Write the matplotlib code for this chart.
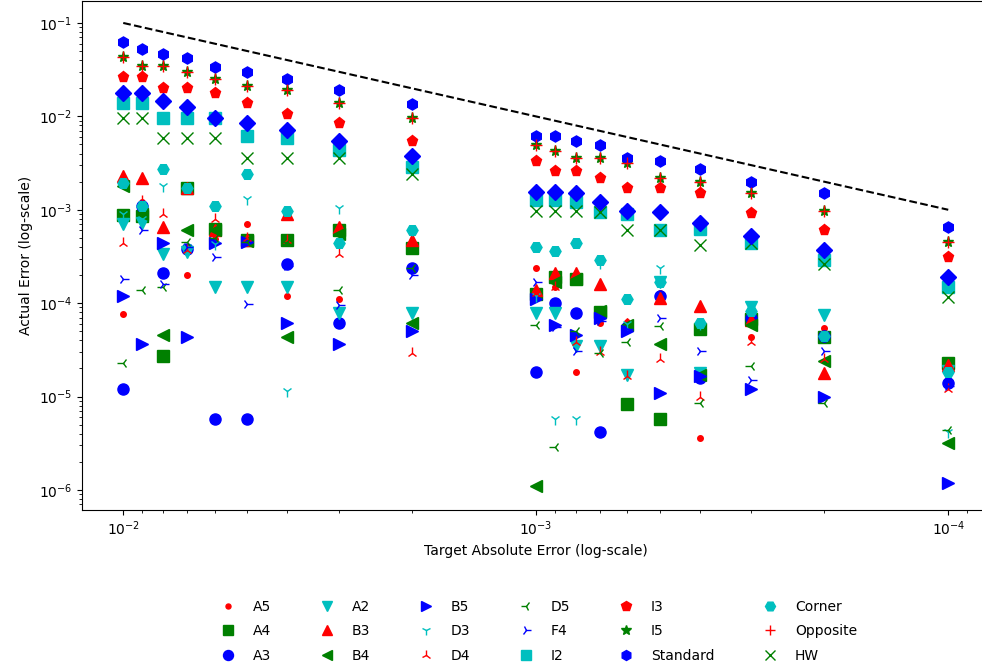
import matplotlib
matplotlib.use("Agg")
import matplotlib.pyplot as plt
import numpy as np

# target absolute errors (x axis)
targets = [0.01, 0.009, 0.008, 0.007, 0.006, 0.005, 0.004, 0.003, 0.002,
           0.001, 0.0009, 0.0008, 0.0007, 0.0006, 0.0005, 0.0004, 0.0003, 0.0002, 0.0001]

# actual errors per method
A5 = [7.6e-5, 1.2e-3, 6e-4, 2.0e-4, 4.9e-4, 7e-4, 1.2e-4, 1.1e-4, 4e-4, 2.4e-4,
      1.5e-4, 1.85e-5, 6.1e-5, 6.3e-5, 1.27e-4, 3.6e-6, 4.3e-5, 5.4e-5, 1.5e-5]
A4 = [8.8e-4, 8.5e-4, 2.7e-5, 1.7e-3, 6.2e-4, 4.7e-4, 4.7e-4, 6.0e-4, 3.9e-4, 1.25e-4,
      1.9e-4, 1.8e-4, 8.0e-5, 8.4e-6, 5.8e-6, 5.3e-5, 6.8e-5, 4.3e-5, 2.3e-5]
A3 = [1.2e-5, 1.1e-3, 2.1e-4, 3.8e-4, 5.7e-6, 5.7e-6, 2.65e-4, 6.1e-5, 2.4e-4, 1.85e-5,
      1.0e-4, 7.8e-5, 4.2e-6, 5.5e-5, 1.2e-4, 1.6e-5, 7e-5, 4.5e-5, 1.4e-5]
A2 = [7.1e-4, 7.3e-4, 3.4e-4, 3.5e-4, 1.5e-4, 1.5e-4, 1.5e-4, 7.8e-5, 7.8e-5, 7.8e-5,
      7.8e-5, 3.5e-5, 3.5e-5, 1.7e-5, 1.7e-4, 1.8e-5, 9e-5, 7.5e-5, 1.9e-5]
B3 = [2.3e-3, 2.2e-3, 6.5e-4, 1.7e-3, 6.0e-4, 4.8e-4, 9.0e-4, 6.6e-4, 4.7e-4, 1.4e-4,
      2.1e-4, 2.1e-4, 1.6e-4, 6.0e-5, 1.15e-4, 9.3e-5, 6.6e-5, 1.8e-5, 2.2e-5]
B4 = [1.8e-3, 9e-4, 4.6e-5, 6.0e-4, 6.0e-4, 4.6e-4, 4.3e-5, 5.5e-4, 6.1e-5, 1.1e-6,
      1.7e-4, 1.8e-4, 8.3e-5, 5.8e-5, 3.7e-5, 1.7e-5, 5.8e-5, 2.4e-5, 3.2e-6]
B5 = [1.18e-4, 3.7e-5, 4.4e-4, 4.3e-5, 4.4e-4, 4.5e-4, 6.1e-5, 3.7e-5, 5e-5, 1.1e-4,
      5.8e-5, 4.6e-5, 7e-5, 5e-5, 1.1e-5, 1.65e-5, 1.2e-5, 1e-5, 1.2e-6]
D3 = [9e-4, 8e-4, 1.8e-3, 4e-4, 4.3e-4, 1.3e-3, 1.15e-5, 1.05e-3, 6e-4, 1.2e-4,
      5.7e-6, 5.7e-6, 2.7e-4, 6e-5, 2.4e-4, 6e-5, 9.8e-5, 7.6e-5, 4.2e-6]
D4 = [4.4e-4, 1.25e-3, 9e-4, 3.7e-4, 8e-4, 5e-4, 4.7e-4, 3.4e-4, 2.9e-5, 1.3e-4,
      1.5e-4, 3.8e-5, 3e-5, 1.65e-5, 2.5e-5, 1e-5, 3.8e-5, 2.5e-5, 1.2e-5]
D5 = [2.3e-5, 1.4e-4, 1.5e-4, 4.5e-4, 5e-4, 4.5e-4, 4.5e-4, 1.4e-4, 2.4e-4, 5.8e-5,
      2.9e-6, 5e-5, 2.9e-5, 3.8e-5, 5.7e-5, 8.5e-6, 2.1e-5, 8.6e-6, 4.4e-6]
F4 = [1.8e-4, 6e-4, 1.6e-4, 4e-4, 3.1e-4, 9.8e-5, 2.5e-4, 9.5e-5, 2.0e-4, 1.7e-4,
      5.5e-5, 3.1e-5, 6.5e-5, 5.3e-5, 6.9e-5, 3.1e-5, 1.5e-5, 3.1e-5, 1.3e-5]
I2 = [1.4e-2, 1.4e-2, 9.7e-3, 9.7e-3, 9.5e-3, 6.2e-3, 5.9e-3, 4.4e-3, 2.9e-3, 1.27e-3,
      1.27e-3, 1.2e-3, 9.4e-4, 9.0e-4, 6.1e-4, 6.3e-4, 4.4e-4, 2.9e-4, 1.5e-4]
I3 = [2.65e-2, 2.65e-2, 2.0e-2, 2.0e-2, 1.8e-2, 1.4e-2, 1.07e-2, 8.5e-3, 5.4e-3, 3.3e-3,
      2.6e-3, 2.6e-3, 2.2e-3, 1.7e-3, 1.73e-3, 1.5e-3, 9.2e-4, 6.1e-4, 3.1e-4]
I5 = [4.3e-2, 3.5e-2, 3.5e-2, 3.0e-2, 2.5e-2, 2.1e-2, 1.9e-2, 1.4e-2, 9.7e-3, 4.9e-3,
      4.3e-3, 3.6e-3, 3.6e-3, 3.2e-3, 2.2e-3, 1.97e-3, 1.5e-3, 9.8e-4, 4.5e-4]
Standard = [6.2e-2, 5.3e-2, 4.7e-2, 4.2e-2, 3.4e-2, 3.0e-2, 2.5e-2, 1.9e-2, 1.36e-2, 6.2e-3,
            6.2e-3, 5.4e-3, 4.9e-3, 3.6e-3, 3.3e-3, 2.7e-3, 1.97e-3, 1.5e-3, 6.5e-4]
Corner = [1.95e-3, 1.1e-3, 2.7e-3, 1.7e-3, 1.1e-3, 2.4e-3, 9.6e-4, 4.4e-4, 6.0e-4, 4.0e-4,
          3.6e-4, 4.4e-4, 2.9e-4, 1.1e-4, 1.7e-4, 6.1e-5, 8.2e-5, 4.5e-5, 1.85e-5]
Opposite = [4.3e-2, 3.5e-2, 3.5e-2, 3.0e-2, 2.5e-2, 2.1e-2, 1.9e-2, 1.4e-2, 9.7e-3, 4.9e-3,
            4.3e-3, 3.6e-3, 3.6e-3, 3.2e-3, 2.2e-3, 1.97e-3, 1.5e-3, 9.8e-4, 4.5e-4]
HW = [9.7e-3, 9.5e-3, 5.9e-3, 5.9e-3, 5.9e-3, 3.6e-3, 3.6e-3, 3.6e-3, 2.4e-3, 9.8e-4,
      9.6e-4, 9.6e-4, 9.4e-4, 6.1e-4, 6.1e-4, 4.2e-4, 4.4e-4, 2.65e-4, 1.17e-4]
# extra series (blue diamonds), not in the legend
extra = [1.8e-2, 1.8e-2, 1.47e-2, 1.26e-2, 9.7e-3, 8.5e-3, 7.1e-3, 5.4e-3, 3.8e-3, 1.56e-3,
         1.56e-3, 1.5e-3, 1.2e-3, 9.8e-4, 9.4e-4, 7.3e-4, 5.3e-4, 3.7e-4, 1.9e-4]

names = ['A5', 'A4', 'A3', 'A2', 'B3', 'B4', 'B5', 'D3', 'D4', 'D5', 'F4',
         'I2', 'I3', 'I5', 'Standard', 'Corner', 'Opposite', 'HW', '_nolegend_']
series = [A5, A4, A3, A2, B3, B4, B5, D3, D4, D5, F4,
          I2, I3, I5, Standard, Corner, Opposite, HW, extra]
markers = ['.', 's', 'o', 'v', '^', '<', '>', '1', '2', '3', '4',
           's', 'p', '*', 'h', 'H', '+', 'x', 'D']
colors = ['r', 'g', 'b', 'c']

fig = plt.figure(figsize=(9.82, 6.68), dpi=100)
ax = fig.add_axes([82/982, 158/668, 907.5/982, 509/668])

x = np.array(targets)
ax.plot([x[0], x[-1]], [10*x[0], 10*x[-1]], 'k--')
for i, (name, ys) in enumerate(zip(names, series)):
    ax.plot(targets, ys, linestyle='', marker=markers[i], color=colors[i % 4],
            markersize=8, label=name)

ax.set_xscale('log')
ax.set_yscale('log')
ax.set_xlim(10**-1.9, 10**-4.1)
ax.set_ylim(10**-6.214, 10**-0.765)
ax.set_xlabel('Target Absolute Error (log-scale)')
ax.set_ylabel('Actual Error (log-scale)')

handles, labels = ax.get_legend_handles_labels()
ax.legend(handles[:18], labels[:18], loc='upper center', bbox_to_anchor=(0.5, -0.152),
          ncol=6, frameon=False, labelspacing=0.75, columnspacing=3.0, markerscale=0.9)

fig.savefig('out.png', dpi=100)
